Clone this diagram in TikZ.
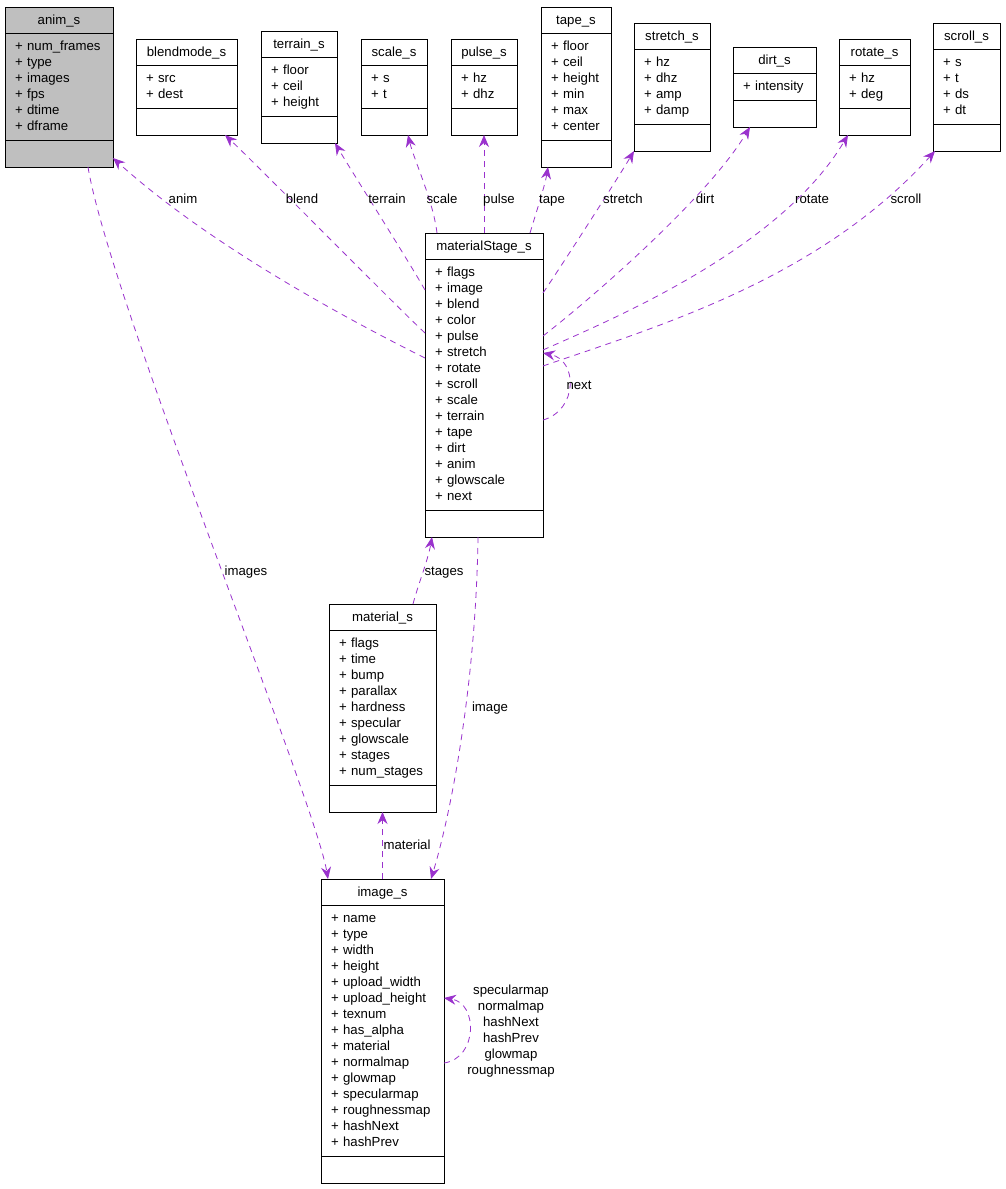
\documentclass[tikz,border=0pt]{standalone}
\usepackage{fontspec}
\setmainfont{Liberation Sans}
\usetikzlibrary{arrows.meta}
\definecolor{edgec}{HTML}{9A32CD}
\definecolor{grayfill}{HTML}{BFBFBF}
\newcommand\fld[1]{\rule[-4pt]{0pt}{16pt}+ #1}
\newcommand\umlbox[8]{%
  \node[ttl,fill=#8,minimum width=#4pt,anchor=north west] (#1) at (#2,#3) {#5};
  \node[attr,fill=#8,minimum width=#4pt,text width={#4pt-20pt},minimum height={(16*#7+11)*1pt},anchor=north] (#1-a) at (#1.south) {#6};
  \node[emp,fill=#8,minimum width=#4pt,anchor=north] (#1-e) at (#1-a.south) {};
}
\begin{document}
\begin{tikzpicture}[x=1pt,y=-1pt,
  font=\fontsize{13.2}{16}\selectfont,
  ttl/.style={draw,line width=1pt,inner sep=0pt,outer sep=0pt,minimum height=26pt,text height=10.5pt,text depth=2.5pt},
  attr/.style={draw,line width=1pt,inner ysep=0pt,inner xsep=10pt,outer sep=0pt,align=left},
  emp/.style={draw,line width=1pt,inner sep=0pt,outer sep=0pt,minimum height=27pt},
  rel/.style={edgec,line width=0.8pt,dash pattern=on 6pt off 5pt,-{Stealth[length=12pt,width=10pt,inset=4pt]}},
  lbl/.style={inner sep=0pt,text height=10.5pt,text depth=2.5pt}]
\fill[white] (0,0) rectangle (1005,1189);
\useasboundingbox (0,0) rectangle (1005,1189);

\umlbox{anim}{5}{7}{108}{anim\_s}{\fld{num\_frames}\\\fld{type}\\\fld{images}\\\fld{fps}\\\fld{dtime}\\\fld{dframe}}{6}{grayfill}
\umlbox{blend}{136}{39}{101}{blendmode\_s}{\fld{src}\\\fld{dest}}{2}{white}
\umlbox{terrain}{261}{31}{76}{terrain\_s}{\fld{floor}\\\fld{ceil}\\\fld{height}}{3}{white}
\umlbox{scale}{361}{39}{66}{scale\_s}{\fld{s}\\\fld{t}}{2}{white}
\umlbox{pulse}{451}{39}{66}{pulse\_s}{\fld{hz}\\\fld{dhz}}{2}{white}
\umlbox{tape}{541}{7}{70}{tape\_s}{\fld{floor}\\\fld{ceil}\\\fld{height}\\\fld{min}\\\fld{max}\\\fld{center}}{6}{white}
\umlbox{stretch}{634}{23}{76}{stretch\_s}{\fld{hz}\\\fld{dhz}\\\fld{amp}\\\fld{damp}}{4}{white}
\umlbox{dirt}{733}{47}{83}{dirt\_s}{\fld{intensity}}{1}{white}
\umlbox{rotate}{839}{39}{71}{rotate\_s}{\fld{hz}\\\fld{deg}}{2}{white}
\umlbox{scroll}{933}{23}{67}{scroll\_s}{\fld{s}\\\fld{t}\\\fld{ds}\\\fld{dt}}{4}{white}
\umlbox{ms}{425}{233}{118}{materialStage\_s}{\fld{flags}\\\fld{image}\\\fld{blend}\\\fld{color}\\\fld{pulse}\\\fld{stretch}\\\fld{rotate}\\\fld{scroll}\\\fld{scale}\\\fld{terrain}\\\fld{tape}\\\fld{dirt}\\\fld{anim}\\\fld{glowscale}\\\fld{next}}{15}{white}
\umlbox{mat}{329}{604}{107}{material\_s}{\fld{flags}\\\fld{time}\\\fld{bump}\\\fld{parallax}\\\fld{hardness}\\\fld{specular}\\\fld{glowscale}\\\fld{stages}\\\fld{num\_stages}}{9}{white}
\umlbox{img}{321}{879}{123}{image\_s}{\fld{name}\\\fld{type}\\\fld{width}\\\fld{height}\\\fld{upload\_width}\\\fld{upload\_height}\\\fld{texnum}\\\fld{has\_alpha}\\\fld{material}\\\fld{normalmap}\\\fld{glowmap}\\\fld{specularmap}\\\fld{roughnessmap}\\\fld{hashNext}\\\fld{hashPrev}}{15}{white}

\draw[rel] ([yshift=-99pt]ms-a.north west) .. controls (337,314) and (206,242) .. ([yshift=9pt]anim-e.south east);
\draw[rel] ([yshift=-74pt]ms-a.north west) .. controls (395,305) and (255,163) .. ([xshift=89pt]blend-e.south west);
\draw[rel] ([yshift=-31pt]ms-a.north west) .. controls (405,255) and (352,172) .. ([xshift=74pt]terrain-e.south west);
\draw[rel] ([xshift=12pt]ms.north west) .. controls (433,200) and (414,160) .. ([xshift=47pt]scale-e.south west);
\draw[rel] (ms.north) -- (pulse-e.south);
\draw[rel] ([xshift=-13pt]ms.north east) .. controls (537,210) and (545,185) .. ([xshift=7pt]tape-e.south west);
\draw[rel] ([yshift=-34pt]ms-a.north east) .. controls (562,265) and (618,178) .. (stretch-e.south west);
\draw[rel] ([yshift=-77pt]ms-a.north east) .. controls (587,302) and (706,200) .. ([xshift=17pt]dirt-e.south west);
\draw[rel] ([yshift=-91pt]ms-a.north east) .. controls (615,318) and (780,249) .. ([xshift=9pt]rotate-e.south west);
\draw[rel] ([yshift=-107pt]ms-a.north east) .. controls (659,326) and (819,279) .. ([xshift=2pt]scroll-e.south west);
\draw[rel] ([yshift=-161pt]ms-a.north east) .. controls (578,410) and (578,360) .. ([yshift=-94pt]ms-a.north east);
\draw[rel] ([xshift=83pt]anim-e.south west) .. controls (110,300) and (315,800) .. ([xshift=7pt]img.north west);
\draw[rel] ([xshift=84pt]mat.north west) .. controls (418,585) and (428,560) .. ([xshift=7pt]ms-e.south west);
\draw[rel] ([xshift=53pt]ms-e.south west) .. controls (476,680) and (452,810) .. ([xshift=110pt]img.north west);
\draw[rel] (img.north) -- (mat-e.south);
\draw[rel] ([yshift=-158pt]img-a.north east) .. controls (478,1058) and (478,1003) .. ([yshift=-93pt]img-a.north east);

\node[lbl] (l-anim) at (183,199) {anim};
\node[lbl] (l-blend) at (302,199) {blend};
\node[lbl] (l-terrain) at (387,199) {terrain};
\node[lbl] (l-scale) at (442,199) {scale};
\node[lbl] (l-pulse) at (499,199) {pulse};
\node[lbl] (l-tape) at (552,199) {tape};
\node[lbl] (l-stretch) at (623,199) {stretch};
\node[lbl] (l-dirt) at (705,199) {dirt};
\node[lbl] (l-rotate) at (812,199) {rotate};
\node[lbl] (l-scroll) at (906,199) {scroll};
\node[lbl] (l-next) at (579,385) {next};
\node[lbl] (l-images) at (246,571) {images};
\node[lbl] (l-stages) at (444,571) {stages};
\node[lbl] (l-image) at (490,707) {image};
\node[lbl] (l-material) at (407,845) {material};
\node[inner sep=0pt,align=center] (l-imgloop) at (511,1031) {specularmap\\normalmap\\hashNext\\hashPrev\\glowmap\\roughnessmap};
\end{tikzpicture}
\end{document}
